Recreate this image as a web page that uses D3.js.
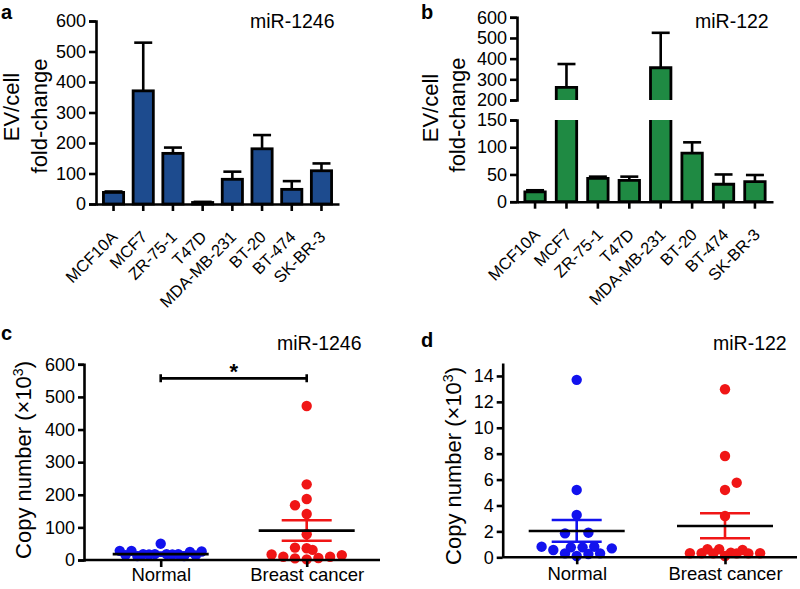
<!DOCTYPE html>
<html><head><meta charset="utf-8">
<script src="https://cdn.jsdelivr.net/npm/d3@7"></script>
<style>body{margin:0;background:#fff}svg{display:block}</style>
</head><body><svg id="chart" width="800" height="589"></svg>
<script>
// ---------- data ----------
const cellLines = ["MCF10A","MCF7","ZR-75-1","T47D","MDA-MB-231","BT-20","BT-474","SK-BR-3"];
const mir1246Fold    = [38, 371, 166, 5, 81, 181, 48, 109];
const mir1246FoldErr = [41, 529, 185, 7, 106, 226, 75, 133];
const mir122Fold     = [18, 261, 43, 39, 356, 89, 32, 37];
const mir122FoldErr  = [21, 374, 46, 46, 525, 109, 50, 49];
const foldTicksA = [0,100,200,300,400,500,600];
const foldTicksBUpper = [200,300,400,500,600];
const foldTicksBLower = [0,50,100,150];

const groups = ["Normal","Breast cancer"];
const mir1246Normal      = [28,15,28,12,18,17,18,50,18,17,18,12,25,14,26];
const mir1246NormalSlot  = [-3.5,-3,-2.5,-2,-1.5,-1,-0.5,0,0.5,1,1.5,2,2.5,3,3.5];
const mir1246Cancer      = [472,232,168,187,141,79,38,36,31,17,10,5,2,6,10,15];
const mir1246CancerSlot  = [0,0,-1,0,0,0,-1,0,0.5,-3,-2,-1,0,1,2,3];
const mir1246Mean    = [18, 90];
const mir1246SemLow  = [13, 59];
const mir1246SemHigh = [23, 122];
const mir1246SigLevel = 557;
const copyTicksC = [0,100,200,300,400,500,600];

const mir122Normal     = [13.7,5.2,3.27,1.85,1.9,0.82,0.56,0.77,0.77,0.82,0.69,0.3,0.1,0.25,0.3];
const mir122NormalSlot = [0,0,0,-1,1,-3,-2,-0.5,0.5,1.5,3,-1,0,1,2];
const mir122Cancer     = [12.97,7.82,5.76,5.2,3.19,0.31,0.31,0.62,0.62,0.3,0.36,0.1,0.56,0.3,0.3,0.31];
const mir122CancerSlot = [0,0,1,0,0,-3,-2,-1.5,-0.5,-1,0.5,0,1.5,1,2,3];
const mir122Mean    = [2.03, 2.42];
const mir122SemLow  = [1.2, 1.47];
const mir122SemHigh = [2.88, 3.4];
const copyTicksD = [0,2,4,6,8,10,12,14];

// ---------- style ----------
const FONT = '"Liberation Sans", Arial, sans-serif';
const BLUE_BAR = "#1d4b8e", GREEN_BAR = "#1f8a43";
const BLUE_DOT = "#1212ee", RED_DOT = "#f01616";
const SW = 2.6;
const svg = d3.select("#chart");

function styleAxis(g, fs) {
  g.select(".domain").attr("stroke","#000").attr("stroke-width",SW).attr("fill","none");
  g.selectAll(".tick line").attr("stroke","#000").attr("stroke-width",SW);
  g.selectAll(".tick text").attr("font-size",fs).attr("font-family",FONT).attr("fill","#000");
}
function txt(x, y, s, fs, opts = {}) {
  const t = svg.append("text").attr("x",x).attr("y",y).text(s)
    .attr("font-family",FONT).attr("font-size",fs).attr("fill","#000");
  if (opts.bold) t.attr("font-weight","bold");
  if (opts.anchor) t.attr("text-anchor",opts.anchor);
  return t;
}
function vtxt(cx, cy, s, fs) {
  return svg.append("text").attr("transform",`translate(${cx},${cy}) rotate(-90)`)
    .attr("text-anchor","middle").attr("font-family",FONT).attr("font-size",fs).attr("fill","#000").text(s);
}

// ---------- panel a ----------
(function(){
  const x = d3.scaleBand().domain(cellLines).range([96,339]).paddingInner(0.32).paddingOuter(0.25);
  const y = d3.scaleLinear().domain([0,600]).range([204,21]);
  const g = svg.append("g");
  cellLines.forEach((c,i) => {
    const cx = x(c) + x.bandwidth()/2;
    g.append("line").attr("x1",cx).attr("x2",cx).attr("y1",y(mir1246Fold[i])).attr("y2",y(mir1246FoldErr[i]))
      .attr("stroke","#000").attr("stroke-width",SW);
    g.append("line").attr("x1",cx-9).attr("x2",cx+9).attr("y1",y(mir1246FoldErr[i])).attr("y2",y(mir1246FoldErr[i]))
      .attr("stroke","#000").attr("stroke-width",SW);
  });
  g.selectAll("rect").data(cellLines).join("rect")
    .attr("x",d => x(d)).attr("width",x.bandwidth())
    .attr("y",(d,i) => y(mir1246Fold[i])).attr("height",(d,i) => y(0)-y(mir1246Fold[i]))
    .attr("fill",BLUE_BAR).attr("stroke","#000").attr("stroke-width",2.8);
  const ya = svg.append("g").attr("transform","translate(96,0)")
    .call(d3.axisLeft(y).tickValues(foldTicksA).tickSize(7).tickSizeOuter(7).tickPadding(3));
  styleAxis(ya, 18);
  const xa = svg.append("g").attr("transform","translate(0,204)")
    .call(d3.axisBottom(x).tickSize(7).tickSizeOuter(0));
  styleAxis(xa, 16.5);
  xa.selectAll(".tick text").attr("x",0).attr("y",0).attr("dy",0)
    .attr("text-anchor","end").attr("transform","translate(5,34) rotate(-45)");
  txt(1,18.5,"a",20,{bold:true});
  txt(250,28,"miR-1246",19.5);
  vtxt(19,107,"EV/cell",22);
  vtxt(47,116,"fold-change",22);
})();

// ---------- panel b (broken axis) ----------
(function(){
  const x = d3.scaleBand().domain(cellLines).range([517,773]).paddingInner(0.35).paddingOuter(0.25);
  const yU = d3.scaleLinear().domain([200,600]).range([100,17.3]);
  const yL = d3.scaleLinear().domain([0,150]).range([201.7,120]);
  const g = svg.append("g");
  const ys = v => v > 150 ? yU(v) : yL(v);
  cellLines.forEach((c,i) => {
    const cx = x(c) + x.bandwidth()/2;
    const v = mir122Fold[i], e = mir122FoldErr[i];
    g.append("line").attr("x1",cx).attr("x2",cx).attr("y1",ys(v)).attr("y2",ys(e))
      .attr("stroke","#000").attr("stroke-width",SW);
    g.append("line").attr("x1",cx-9).attr("x2",cx+9).attr("y1",ys(e)).attr("y2",ys(e))
      .attr("stroke","#000").attr("stroke-width",SW);
  });
  cellLines.forEach((c,i) => {
    const v = mir122Fold[i];
    const x0 = x(c), x1 = x(c) + x.bandwidth();
    const lo = Math.min(v,150);
    g.append("rect").attr("x",x0).attr("width",x.bandwidth())
      .attr("y",yL(lo)).attr("height",yL(0)-yL(lo)).attr("fill",GREEN_BAR);
    let d;
    if (v > 150) {
      d = `M${x0},${yL(0)}V${yL(150)}M${x1},${yL(150)}V${yL(0)}H${x0}`;
      g.append("rect").attr("x",x0).attr("width",x.bandwidth())
        .attr("y",yU(v)).attr("height",yU(200)-yU(v)).attr("fill",GREEN_BAR);
      g.append("path").attr("d",`M${x0},${yU(200)}V${yU(v)}H${x1}V${yU(200)}`)
        .attr("fill","none").attr("stroke","#000").attr("stroke-width",2.8);
    } else {
      d = `M${x0},${yL(0)}V${yL(v)}H${x1}V${yL(0)}Z`;
    }
    g.append("path").attr("d",d).attr("fill","none").attr("stroke","#000").attr("stroke-width",2.8);
  });
  const yaU = svg.append("g").attr("transform","translate(517,0)")
    .call(d3.axisLeft(yU).tickValues(foldTicksBUpper).tickSize(7).tickSizeOuter(7).tickPadding(3));
  styleAxis(yaU, 18);
  const yaL = svg.append("g").attr("transform","translate(517,0)")
    .call(d3.axisLeft(yL).tickValues(foldTicksBLower).tickSize(7).tickSizeOuter(7).tickPadding(3));
  styleAxis(yaL, 18);
  const xa = svg.append("g").attr("transform","translate(0,201.7)")
    .call(d3.axisBottom(x).tickSize(7).tickSizeOuter(0));
  styleAxis(xa, 16.5);
  xa.selectAll(".tick text").attr("x",0).attr("y",0).attr("dy",0)
    .attr("text-anchor","end").attr("transform","translate(6,34) rotate(-45)");
  txt(421,18.5,"b",20,{bold:true});
  txt(695,28,"miR-122",19.5);
  vtxt(438,108,"EV/cell",22);
  vtxt(465,115,"fold-change",22);
})();

// ---------- dot plot helper ----------
function dotPanel(cfg) {
  const x = d3.scalePoint().domain(groups).range(cfg.centers);
  const y = d3.scaleLinear().domain(cfg.yDomain).range(cfg.yRange);
  const slot = d3.scaleLinear().domain([0,1]).range([0,11.7]);
  const g = svg.append("g");
  const sets = [
    {vals: cfg.normal, slots: cfg.normalSlot, col: BLUE_DOT, grp: groups[0]},
    {vals: cfg.cancer, slots: cfg.cancerSlot, col: RED_DOT, grp: groups[1]}
  ];
  const ya = svg.append("g").attr("transform",`translate(${cfg.axisX},0)`)
    .call(d3.axisLeft(y).tickValues(cfg.ticks).tickSize(6).tickSizeOuter(cfg.outer).tickPadding(3));
  styleAxis(ya, 18);
  const xa = svg.append("g").attr("transform",`translate(0,${cfg.yRange[0]})`)
    .call(d3.axisBottom(x).tickSize(7).tickSizeOuter(0).tickPadding(cfg.xPad));
  styleAxis(xa, 18.5);
  xa.select(".domain").attr("d",`M${cfg.axisX},0H${cfg.axisEnd}`);
  sets.forEach(s => {
    g.selectAll(null).data(s.vals).join("circle")
      .attr("cx",(d,i) => x(s.grp) + slot(s.slots[i]))
      .attr("cy",d => y(d)).attr("r",5.2).attr("fill",s.col);
  });
  sets.forEach((s,k) => {
    const cx = x(s.grp);
    g.append("line").attr("x1",cx).attr("x2",cx).attr("y1",y(cfg.semLow[k])).attr("y2",y(cfg.semHigh[k]))
      .attr("stroke",s.col).attr("stroke-width",SW);
    [cfg.semLow[k], cfg.semHigh[k]].forEach(v => {
      g.append("line").attr("x1",cx-25).attr("x2",cx+25).attr("y1",y(v)).attr("y2",y(v))
        .attr("stroke",s.col).attr("stroke-width",SW);
    });
    g.append("line").attr("x1",cx-48).attr("x2",cx+48).attr("y1",y(cfg.mean[k])).attr("y2",y(cfg.mean[k]))
      .attr("stroke","#000").attr("stroke-width",SW);
  });
  return {x, y};
}

// ---------- panel c ----------
(function(){
  const {x, y} = dotPanel({
    centers:[160.7,306.7], yDomain:[0,600], yRange:[560,364.3], ticks:copyTicksC, outer:6,
    axisX:84, axisEnd:380, xPad:1,
    normal:mir1246Normal, normalSlot:mir1246NormalSlot,
    cancer:mir1246Cancer, cancerSlot:mir1246CancerSlot,
    mean:mir1246Mean, semLow:mir1246SemLow, semHigh:mir1246SemHigh
  });
  const yb = y(mir1246SigLevel), x0 = x(groups[0]), x1 = x(groups[1]);
  svg.append("path").attr("d",`M${x0},${yb-4}V${yb+4}M${x0},${yb}H${x1}M${x1},${yb-4}V${yb+4}`)
    .attr("stroke","#000").attr("stroke-width",SW).attr("fill","none");
  txt((x0+x1)/2, yb+1, "*", 22, {bold:true, anchor:"middle"});
  txt(1,340,"c",20,{bold:true});
  txt(277,350,"miR-1246",19.5);
  const t = vtxt(31,460,"Copy number (×10",22);
  t.append("tspan").attr("baseline-shift","super").attr("font-size",14).text("3");
  t.append("tspan").text(")");
})();

// ---------- panel d ----------
(function(){
  dotPanel({
    centers:[576.7,725], yDomain:[0,15], yRange:[557.3,363], ticks:copyTicksD, outer:0,
    axisX:502.7, axisEnd:797, xPad:3,
    normal:mir122Normal, normalSlot:mir122NormalSlot,
    cancer:mir122Cancer, cancerSlot:mir122CancerSlot,
    mean:mir122Mean, semLow:mir122SemLow, semHigh:mir122SemHigh
  });
  txt(421,347,"d",20,{bold:true});
  txt(713,350,"miR-122",19.5);
  const t = vtxt(461,466,"Copy number (×10",22);
  t.append("tspan").attr("baseline-shift","super").attr("font-size",14).text("3");
  t.append("tspan").text(")");
})();
</script></body></html>
